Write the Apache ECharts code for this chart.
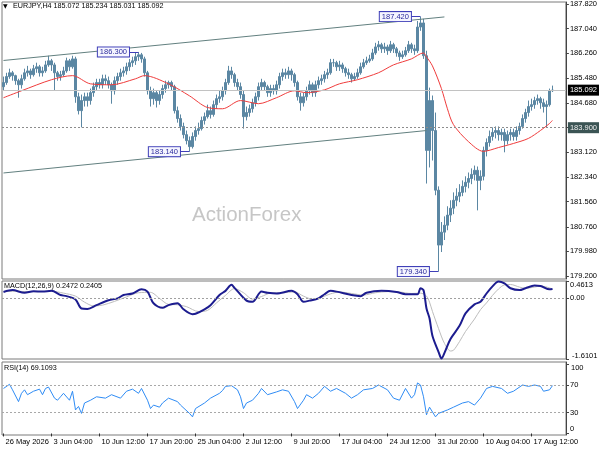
<!DOCTYPE html>
<html>
<head>
<meta charset="utf-8">
<script src="https://cdn.jsdelivr.net/npm/echarts@6/dist/echarts.min.js"></script>
<style>
html,body{margin:0;padding:0;background:#fff;}
#chart{width:600px;height:450px;}
</style>
</head>
<body>
<div id="chart"></div>
<script>
// ---------- DATA ----------
const symbolName = 'EURJPY,H4';
const tickLabels = ['26 May 2026','3 Jun 04:00','10 Jun 12:00','17 Jun 20:00','25 Jun 04:00','2 Jul 12:00','9 Jul 20:00','17 Jul 04:00','24 Jul 12:00','31 Jul 20:00','10 Aug 04:00','17 Aug 12:00'];
const tickIndex = [0,16,32,48,64,80,96,112,128,144,160,176];
const priceTicks = [179.20,179.98,180.76,181.56,182.34,183.12,183.90,184.68,185.48,186.26,187.04,187.82];

const opens = [185.20,185.33,185.52,185.64,185.55,185.39,185.26,185.45,185.64,185.70,
185.58,185.77,185.83,185.64,185.70,185.89,186.02,185.89,185.64,185.52,
185.58,185.70,186.02,185.83,186.08,184.88,184.44,184.76,184.88,184.76,
185.01,185.20,185.33,185.26,185.45,185.39,185.26,185.07,185.39,185.52,
185.64,185.70,185.83,185.96,186.02,186.15,186.21,186.08,185.64,185.07,
184.82,185.01,184.76,184.95,185.14,185.26,185.33,185.20,184.44,184.19,
183.94,183.68,183.49,183.30,183.62,183.81,183.87,184.13,184.25,184.44,
184.32,184.63,184.82,184.88,185.07,185.33,185.70,185.58,185.33,185.20,
184.95,184.25,184.38,184.50,184.69,184.88,185.20,185.33,185.20,185.01,
185.14,185.07,185.26,185.52,185.64,185.58,185.70,185.58,185.33,184.88,
184.69,184.88,185.07,185.26,185.01,185.26,185.39,185.45,185.58,185.64,
185.96,185.96,185.83,185.89,185.77,185.64,185.58,185.45,185.52,185.64,
185.83,185.96,186.02,186.08,186.27,186.46,186.53,186.40,186.46,186.34,
186.53,186.40,186.27,186.15,186.21,186.34,186.53,186.40,186.34,187.09,
187.22,186.18,183.18,184.76,183.81,181.92,180.18,180.59,180.81,181.13,
181.35,181.60,181.73,181.85,182.04,182.17,182.29,182.42,182.55,182.23,
182.36,183.18,183.43,183.62,183.75,183.81,183.68,183.75,183.49,183.68,
183.75,183.62,183.81,183.94,184.19,184.38,184.57,184.63,184.76,184.82,
184.69,184.57,184.63,185.072];

const highs = [185.52,185.64,185.77,185.70,185.58,185.45,185.58,185.77,185.86,185.77,
185.89,185.96,185.89,185.83,186.02,186.18,186.08,185.96,185.70,185.70,
185.83,186.12,186.08,186.18,186.15,185.01,184.95,185.01,185.01,185.14,
185.33,185.45,185.45,185.58,185.58,185.52,185.33,185.52,185.64,185.77,
185.83,185.96,186.08,186.15,186.27,186.30,186.27,186.15,185.70,185.20,
185.14,185.07,185.07,185.26,185.39,185.39,185.39,185.26,184.57,184.32,
184.06,183.81,183.62,183.75,183.94,184.06,184.25,184.38,184.63,184.57,
184.76,184.95,185.07,185.20,185.45,185.86,185.83,185.64,185.45,185.33,
185.07,184.57,184.63,184.82,185.01,185.33,185.45,185.39,185.26,185.26,
185.26,185.39,185.64,185.77,185.77,185.83,185.77,185.64,185.39,185.01,
185.01,185.20,185.39,185.33,185.39,185.52,185.58,185.70,185.77,186.08,
186.08,186.02,186.02,185.96,185.83,185.77,185.64,185.64,185.77,185.96,
186.08,186.15,186.21,186.40,186.59,186.65,186.59,186.59,186.53,186.65,
186.59,186.46,186.34,186.34,186.46,186.65,186.59,186.53,187.28,187.42,
187.35,186.34,185.17,184.92,184.38,182.04,180.91,181.09,181.41,181.60,
181.85,181.98,182.11,182.23,182.36,182.48,182.61,182.70,182.67,182.55,
183.30,183.56,183.81,183.91,183.94,183.94,183.87,183.87,183.81,183.87,
183.87,183.94,184.06,184.32,184.50,184.76,184.82,184.88,184.95,184.88,
184.82,184.76,185.14,185.234];

const lows = [185.07,185.26,185.45,185.39,185.26,184.85,185.14,185.39,185.52,185.45,
185.52,185.64,185.52,185.52,185.64,185.83,185.70,185.07,185.39,185.39,
185.52,185.64,185.70,185.77,184.69,184.32,183.91,184.57,184.57,184.63,
184.88,185.07,185.14,185.14,185.26,185.14,184.66,184.95,185.26,185.39,
185.52,185.58,185.70,185.83,185.89,186.02,185.96,185.52,184.95,184.57,
184.63,184.54,184.63,184.82,185.01,185.14,185.07,184.35,184.06,183.81,
183.56,183.37,183.14,183.24,183.49,183.68,183.81,184.00,184.19,184.19,
184.25,184.50,184.69,184.76,184.95,185.26,185.45,185.20,185.07,184.82,
183.87,184.13,184.25,184.38,184.57,184.76,185.07,185.07,184.88,184.88,
184.95,184.95,185.14,185.39,185.45,185.45,185.39,185.20,184.76,184.44,
184.57,184.76,184.95,184.88,184.88,185.14,185.26,185.33,185.45,185.58,
185.83,185.70,185.70,185.64,185.52,185.45,185.33,185.39,185.45,185.58,
185.77,185.89,185.96,186.02,186.21,186.34,186.27,186.27,186.21,186.27,
186.27,186.15,186.02,186.08,186.15,186.27,186.27,186.21,186.27,186.97,
186.08,182.13,182.64,182.86,181.76,179.34,179.96,180.34,180.65,180.91,
181.16,181.41,181.54,181.73,181.85,181.98,182.11,182.23,181.28,181.92,
182.23,182.99,183.30,183.49,183.56,183.49,183.49,183.12,183.37,183.49,
183.49,183.49,183.68,183.87,184.06,184.25,184.44,184.50,184.63,184.50,
184.38,183.91,184.57,185.031];

const closes = [185.33,185.52,185.64,185.55,185.39,185.26,185.45,185.64,185.70,185.58,
185.77,185.83,185.64,185.70,185.89,186.02,185.89,185.64,185.52,185.58,
185.70,186.02,185.83,186.08,184.88,184.44,184.76,184.88,184.76,185.01,
185.20,185.33,185.26,185.45,185.39,185.26,185.07,185.39,185.52,185.64,
185.70,185.83,185.96,186.02,186.15,186.21,186.08,185.64,185.07,184.82,
185.01,184.76,184.95,185.14,185.26,185.33,185.20,184.44,184.19,183.94,
183.68,183.49,183.30,183.62,183.81,183.87,184.13,184.25,184.44,184.32,
184.63,184.82,184.88,185.07,185.33,185.70,185.58,185.33,185.20,184.95,
184.25,184.38,184.50,184.69,184.88,185.20,185.33,185.20,185.01,185.14,
185.07,185.26,185.52,185.64,185.58,185.70,185.58,185.33,184.88,184.69,
184.88,185.07,185.26,185.01,185.26,185.39,185.45,185.58,185.64,185.96,
185.96,185.83,185.89,185.77,185.64,185.58,185.45,185.52,185.64,185.83,
185.96,186.02,186.08,186.27,186.46,186.53,186.40,186.46,186.34,186.53,
186.40,186.27,186.15,186.21,186.34,186.53,186.40,186.34,187.09,187.22,
186.18,183.18,184.76,183.81,181.92,180.18,180.59,180.81,181.13,181.35,
181.60,181.73,181.85,182.04,182.17,182.29,182.42,182.55,182.23,182.36,
183.18,183.43,183.62,183.75,183.81,183.68,183.75,183.49,183.68,183.75,
183.62,183.81,183.94,184.19,184.38,184.57,184.63,184.76,184.82,184.69,
184.57,184.63,185.07,185.092];

// moving average read at points [barIndex, price]
const maPoints = [[0,184.85],[6,185.07],[16,185.42],[23,185.55],[29,185.29],[36,185.26],[44,185.45],[47,185.55],[55,185.29],[62,184.91],[68,184.54],[73,184.50],[79,184.76],[85,184.66],[91,184.85],[97,185.07],[101,185.01],[107,185.10],[112,185.29],[118,185.42],[125,185.64],[130,185.89],[136,186.08],[140,186.27],[141,186.15],[143,185.86],[146,185.14],[148,184.50],[150,184.00],[155,183.46],[160,183.15],[165,183.27],[170,183.40],[175,183.56],[179,183.81],[182,184.03],[183,184.13]];

const macdPoints = [[0,0.17],[3,0.22],[7,0.15],[10,0.19],[13,0.18],[16,0.20],[19,0.09],[21,0.06],[24,-0.03],[26,-0.27],[28,-0.28],[31,-0.18],[35,-0.05],[38,0.0],[40,0.09],[43,0.13],[46,0.24],[48,0.18],[50,-0.13],[53,-0.25],[55,-0.18],[58,-0.13],[60,-0.29],[63,-0.42],[64,-0.41],[67,-0.29],[69,-0.18],[72,0.09],[74,0.20],[76,0.36],[77,0.28],[81,-0.06],[83,-0.09],[86,0.18],[88,0.15],[91,0.13],[96,0.20],[98,0.11],[100,-0.09],[102,-0.06],[105,0.0],[107,0.11],[109,0.20],[111,0.18],[116,0.09],[119,0.06],[121,0.15],[126,0.20],[131,0.17],[134,0.11],[138,0.11],[139,0.27],[140,0.22],[141,-0.27],[142,-0.53],[143,-1.0],[145,-1.42],[146,-1.60],[147,-1.45],[149,-1.08],[152,-0.73],[154,-0.40],[157,-0.16],[159,-0.09],[161,0.13],[163,0.32],[165,0.45],[167,0.40],[169,0.27],[172,0.22],[174,0.27],[177,0.34],[179,0.33],[182,0.24],[183,0.2472]];

const signalPoints = [[0,0.18],[4,0.19],[8,0.18],[12,0.18],[16,0.19],[20,0.14],[24,0.06],[27,-0.10],[30,-0.20],[33,-0.18],[37,-0.08],[41,0.04],[45,0.15],[49,0.16],[52,0.0],[55,-0.16],[58,-0.17],[61,-0.22],[65,-0.35],[68,-0.32],[71,-0.12],[74,0.08],[77,0.26],[80,0.15],[83,-0.02],[86,0.05],[89,0.14],[93,0.15],[97,0.17],[100,0.06],[103,-0.02],[106,0.03],[109,0.12],[112,0.17],[116,0.13],[120,0.09],[124,0.15],[128,0.18],[132,0.17],[136,0.13],[139,0.14],[141,0.06],[142,-0.10],[143,-0.35],[145,-0.80],[147,-1.20],[149,-1.40],[150,-1.38],[152,-1.15],[154,-0.88],[157,-0.55],[159,-0.30],[161,-0.12],[163,0.08],[165,0.25],[167,0.36],[169,0.37],[172,0.30],[174,0.27],[177,0.30],[179,0.33],[182,0.28],[183,0.2405]];

const rsiPoints = [[0,65],[2,71],[3,63],[5,46],[6,58],[7,63],[8,56],[10,61],[12,64],[13,56],[14,65],[15,67],[17,51],[18,48],[19,53],[20,58],[22,48],[23,61],[24,34],[25,39],[26,29],[27,44],[29,48],[31,53],[34,51],[36,56],[39,51],[41,61],[43,64],[45,58],[46,65],[48,48],[49,36],[50,41],[52,38],[53,44],[55,51],[58,46],[59,41],[62,29],[63,24],[64,36],[67,44],[69,51],[72,58],[73,62],[74,68],[76,69],[78,63],[79,53],[80,36],[81,44],[83,48],[85,58],[86,65],[88,56],[91,60],[93,63],[95,61],[97,46],[98,36],[100,48],[101,56],[103,51],[105,58],[107,68],[109,61],[111,65],[114,58],[116,51],[118,56],[120,63],[123,65],[125,70],[128,63],[130,51],[132,48],[134,65],[136,51],[137,56],[138,73],[139,70],[140,53],[141,27],[142,38],[143,31],[144,24],[145,29],[148,34],[150,38],[153,44],[155,46],[157,41],[159,51],[161,65],[163,68],[166,65],[168,58],[170,61],[173,70],[175,68],[177,70],[179,68],[180,61],[182,63],[183,69.1093]];

// price tags [barIndex, price, text]
const priceTags = [[45,186.30,'186.300'],[139,187.42,'187.420'],[62,183.14,'183.140'],[145,179.34,'179.340']];
// channel lines [[startIndex, startPrice],[endIndex, endPrice]]
const channelLines = [[[0,186.03],[147,187.41]],[[0,182.465],[141,183.81]]];
const bidLevel = 185.092;
const supportLevel = 183.90;
const macdMax = 0.4613;
const macdMin = -1.6101;
const rsiAxis = [100, 70, 30, 0];
const rsiLevels = [70, 30];
const rsiTop = 100;

// ---------- BUILD ----------
const N_CAT = 188;
const categories = Array.from({length: N_CAT}, (_, i) => String(i));
const candles = closes.map((c, i) => [opens[i], c, lows[i], highs[i]]);
const FONT = '"Liberation Sans", Arial, sans-serif';
const last = closes.length - 1;
const headerText = symbolName + ' ' + opens[last].toFixed(3) + ' ' + highs[last].toFixed(3) + ' ' + lows[last].toFixed(3) + ' ' + closes[last].toFixed(3);
const macdText = 'MACD(12,26,9) ' + macdPoints[macdPoints.length-1][1].toFixed(4) + ' ' + signalPoints[signalPoints.length-1][1].toFixed(4);
const rsiText = 'RSI(14) ' + rsiPoints[rsiPoints.length-1][1].toFixed(4);

const isTick = (idx) => tickIndex.indexOf(idx) >= 0;
const BAR = '#5b87a3';
const TAG = '#3f3fb8';
const GRID_RIGHT = 34;
const RSI_TOP = 362, RSI_H = 73, RSI_MIN = -2.2, RSI_MAX = 103.2;
// y of the RSI top label from the RSI pane layout
const rsiTopY = RSI_TOP + (RSI_MAX - rsiTop) / (RSI_MAX - RSI_MIN) * RSI_H;

const chart = echarts.init(document.getElementById('chart'), null, {renderer: 'canvas'});

const grids = [
  {left: 2, right: GRID_RIGHT, top: 1, height: 278},
  {left: 2, right: GRID_RIGHT, top: 281, height: 78},
  {left: 2, right: GRID_RIGHT, top: RSI_TOP, height: RSI_H}
].map(g => Object.assign(g, {show: true, borderColor: '#7a7a7a', borderWidth: 1, backgroundColor: '#fff'}));

const xAxes = [0,1,2].map(g => ({
  type: 'category', gridIndex: g, data: categories, boundaryGap: true,
  axisLine: {show: false},
  axisTick: {show: g === 2, interval: isTick, alignWithLabel: true, length: 3, lineStyle: {color: '#333'}},
  axisLabel: {show: g === 2, interval: isTick, align: 'left', margin: 3, padding: [0,0,0,2],
    fontSize: 7.5, fontFamily: FONT, color: '#000',
    formatter: (v, idx) => { const k = tickIndex.indexOf(Number(v)); return k >= 0 ? tickLabels[k] : ''; }},
  splitLine: {show: false}
}));

const axisBase = {position: 'right', axisLine: {show: true, lineStyle: {color: '#444'}}, splitLine: {show: false}};

const yAxes = [
  Object.assign({}, axisBase, {type: 'value', gridIndex: 0, min: 179.105, max: 187.883,
    axisTick: {show: true, length: 3, customValues: priceTicks, lineStyle: {color: '#444'}},
    axisLabel: {customValues: priceTicks, showMinLabel: true, showMaxLabel: true, margin: 4, fontSize: 7.5, fontFamily: FONT, color: '#000',
      formatter: v => Math.abs(v - supportLevel) < 1e-6 ? '' : v.toFixed(3)}}),
  Object.assign({}, axisBase, {type: 'value', gridIndex: 1, min: -1.6125, max: 0.4625,
    axisTick: {show: true, length: 3, customValues: [macdMax, 0, macdMin], lineStyle: {color: '#444'}},
    axisLabel: {customValues: [macdMax, 0], showMinLabel: true, showMaxLabel: true, margin: 4, fontSize: 7.5, fontFamily: FONT, color: '#000',
      formatter: v => v === 0 ? '0.00' : '{t|' + v.toFixed(4) + '}',
      rich: {t: {fontSize: 7.5, fontFamily: FONT, color: '#000', padding: [7,0,0,0]}}}}),
  Object.assign({}, axisBase, {type: 'value', gridIndex: 2, min: RSI_MIN, max: RSI_MAX,
    axisTick: {show: true, length: 3, customValues: rsiAxis, lineStyle: {color: '#444'}},
    axisLabel: {customValues: [70, 30, 0], showMinLabel: true, showMaxLabel: true, margin: 4, fontSize: 7.5, fontFamily: FONT, color: '#000',
      formatter: v => v === 0 ? '{b|0}' : String(v),
      rich: {b: {fontSize: 7.5, fontFamily: FONT, color: '#000', padding: [0,0,9,0]}}}})
];

const tagLabel = {show: true, position: 'left', distance: 0, formatter: p => p.name,
  backgroundColor: '#f6f6ff', borderColor: TAG, borderWidth: 1, padding: [1,2,0,2],
  fontSize: 7.5, fontFamily: FONT, color: '#2a2a9c'};

const markLineData = [
  {yAxis: bidLevel, lineStyle: {color: '#c2c2c2', type: 'solid', width: 1},
    label: {show: true, position: 'end', distance: 2, formatter: bidLevel.toFixed(3), backgroundColor: '#000', color: '#fff', padding: [2,2,1,2], fontSize: 7.5, fontFamily: FONT}},
  {yAxis: supportLevel, lineStyle: {color: '#8c8c8c', type: [2,2], width: 1},
    label: {show: true, position: 'end', distance: 2, formatter: supportLevel.toFixed(3), backgroundColor: '#3b5454', color: '#f0f0f0', padding: [2,2,1,2], fontSize: 7.5, fontFamily: FONT}}
];
channelLines.forEach(l => markLineData.push([
  {coord: l[0], lineStyle: {color: '#62807f', width: 1, type: 'solid'}},
  {coord: l[1], lineStyle: {color: '#62807f', width: 1, type: 'solid'}}
]));
priceTags.forEach(t => markLineData.push([
  {coord: [t[0] - 3, t[1]], lineStyle: {color: TAG, width: 1, type: 'solid'}},
  {coord: [t[0], t[1]], lineStyle: {color: TAG, width: 1, type: 'solid'}}
]));

const edgeLabel = (text, dy) => ({show: true, position: 'end', distance: 6, formatter: text, offset: [0, dy],
  fontSize: 7.5, fontFamily: FONT, color: '#000'});
const hiddenLine = {color: 'rgba(255,255,255,0)', width: 1, type: 'solid'};

const option = {
  animation: false,
  backgroundColor: '#fff',
  grid: grids,
  xAxis: xAxes,
  yAxis: yAxes,
  graphic: [
    {type: 'text', left: 3, top: 3, z: 100, style: {text: '▼', font: '6px "DejaVu Sans"', fill: '#000'}},
    {type: 'text', left: 13, top: 3, z: 100, style: {text: headerText, font: '7.2px ' + FONT, fill: '#000'}},
    {type: 'text', left: 4, top: 283, z: 100, style: {text: macdText, font: '7.2px ' + FONT, fill: '#000'}},
    {type: 'text', left: 4, top: 365, z: 100, style: {text: rsiText, font: '7.2px ' + FONT, fill: '#000'}},
    {type: 'text', left: 192, top: 205, z: 0, style: {text: 'ActionForex', font: '20.5px ' + FONT, fill: '#c6c6c6'}},
    {type: 'text', x: 600 - GRID_RIGHT + 5, y: rsiTopY, zlevel: 1, z: 1000,
      style: {text: String(rsiTop), font: '7.5px ' + FONT, fill: '#000', textVerticalAlign: 'top', verticalAlign: 'top'}}
  ],
  series: [
    {
      type: 'candlestick', xAxisIndex: 0, yAxisIndex: 0, data: candles, barWidth: 2,
      itemStyle: {color: BAR, color0: BAR, borderColor: BAR, borderColor0: BAR, borderWidth: 1},
      markLine: {symbol: ['none','none'], silent: true, animation: false, label: {show: false}, data: markLineData},
      markPoint: {symbol: 'rect', symbolSize: 1, silent: true, animation: false, itemStyle: {color: 'rgba(0,0,0,0)'},
        label: tagLabel,
        data: priceTags.map(t => ({coord: [t[0] - 3, t[1]], name: t[2]}))}
    },
    {type: 'line', xAxisIndex: 0, yAxisIndex: 0, data: maPoints, showSymbol: false, smooth: 0.3,
      lineStyle: {color: '#f03c3c', width: 1}, z: 3},
    {type: 'line', xAxisIndex: 1, yAxisIndex: 1, data: signalPoints, showSymbol: false, smooth: 0.3,
      lineStyle: {color: '#bdbdbd', width: 1},
      markLine: {symbol: ['none','none'], silent: true, label: {show: false},
        lineStyle: {color: '#a0a0a0', type: [2,2], width: 1},
        data: [{yAxis: 0}, {yAxis: macdMin, lineStyle: hiddenLine, label: edgeLabel(macdMin.toFixed(4), -3)}]}},
    {type: 'line', xAxisIndex: 1, yAxisIndex: 1, data: macdPoints, showSymbol: false, smooth: 0.3,
      lineStyle: {color: '#1c1c8f', width: 2}},
    {type: 'line', xAxisIndex: 2, yAxisIndex: 2, data: rsiPoints, showSymbol: false,
      lineStyle: {color: '#2f8cf5', width: 1},
      markLine: {symbol: ['none','none'], silent: true, label: {show: false},
        lineStyle: {color: '#a8a8a8', type: [2,2], width: 1}, data: rsiLevels.map(v => ({yAxis: v}))}}
  ]
};
chart.setOption(option);
</script>
</body>
</html>
